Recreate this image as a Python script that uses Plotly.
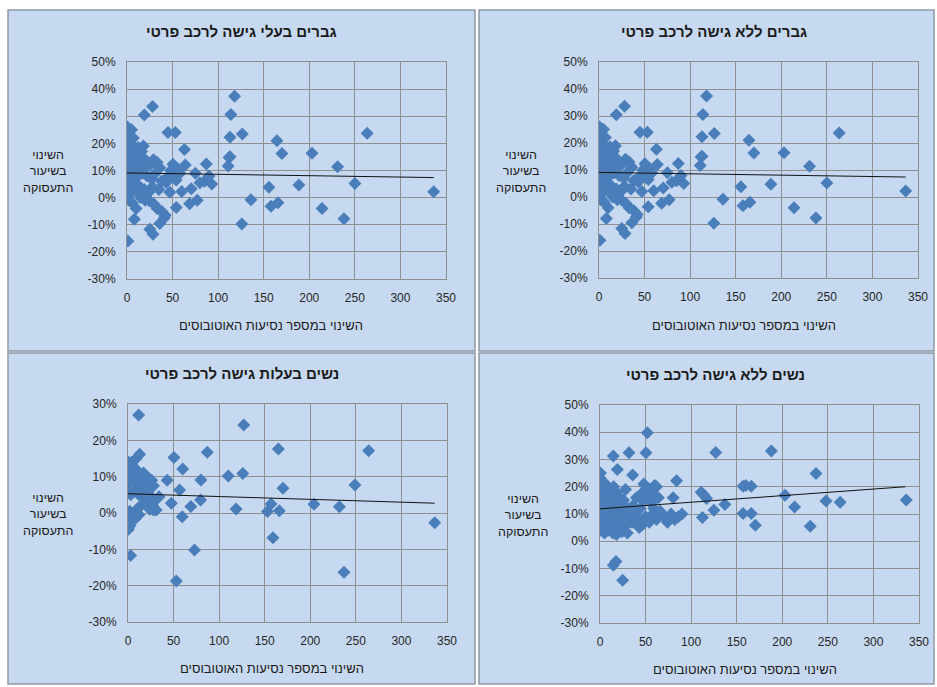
import plotly.graph_objects as go

# ---------------- data ----------------
titles = ["גברים בעלי גישה לרכב פרטי", "גברים ללא גישה לרכב פרטי",
          "נשים בעלות גישה לרכב פרטי", "נשים ללא גישה לרכב פרטי"]
x_title = "השינוי במספר נסיעות האוטובוסים"
y_title = "השינוי<br>בשיעור<br>התעסוקה"

x_ticks = [0, 50, 100, 150, 200, 250, 300, 350]
x_tick_labels = ["0", "50", "100", "150", "200", "250", "300", "350"]
y_ticks_men = [-30, -20, -10, 0, 10, 20, 30, 40, 50]
y_tick_labels_men = ["-30%", "-20%", "-10%", "0%", "10%", "20%", "30%", "40%", "50%"]
y_ticks_wcar = [-30, -20, -10, 0, 10, 20, 30]
y_tick_labels_wcar = ["-30%", "-20%", "-10%", "0%", "10%", "20%", "30%"]
y_ticks_wnocar = y_ticks_men
y_tick_labels_wnocar = y_tick_labels_men

# men (both top panels show the same scatter in the source)
men_x = [118, 28, 19, 114, 263.5, 45, 53, 113, 126.5, 164.5, 170, 203, 63, 87, 112, 111,
         231, 250, 336.5, 188.6, 155.7, 136, 165.6, 158, 214, 238, 126, 54, 68.7, 80, 85,
         70.5, 60, 54, 56, 50.4, 43, 22, 113,
         0.5, 1, 1, 1.5, 2, 0.5, 3, 2, 1, 4, 6, 8, 12, 16, 18, 10, 14, 20, 25, 29, 33, 36,
         3, 6, 9, 12, 17, 22, 27, 31, 38, 44, 48, 2, 5, 9, 14, 19, 24, 28, 35, 1, 4, 10, 15,
         20, 25, 30, 33, 38, 42, 6, 10, 8, 25, 28.5, 41, 36, 1, 2, 0.5, 0.5, 0.5, 3, 7, 5,
         12, 47, 52, 58, 64, 75, 90, 93, 77]
men_y = [37.4, 33.6, 30.5, 30.6, 23.7, 24, 24, 22.3, 23.5, 21, 16.3, 16.4, 17.7, 12.4, 14.8, 11.7,
         11.4, 5.2, 2.2, 4.7, 3.8, -0.8, -1.9, -3.2, -4, -7.8, -9.7, -3.6, -2.3, 5.5, 6,
         3.3, 2.3, 6.5, 10.5, 12.3, 5.6, 12, 15.1,
         26, 24, 22, 20, 18.5, 17, 15.5, 13, 11, 12, 14, 16, 18.5, 17, 19, 13, 11, 14, 12, 14, 13, 11,
         9, 8, 10, 8, 9, 8, 7, 9, 6, 7.5, 10, 6, 4.5, 5, 4, 3, 2, 4, 3, 2, 1.5, 2.5, 0,
         -1, -1.2, -2.5, -4, -5, -6.5, -2, -4, -8, -11.7, -13.5, -7.4, -9.5, -16, -1, 4, 8, 12, 20, 22, 25,
         15, 2, 8, 9, 12, 9, 8, 5, -1]
men_trend_x = [0, 336.5]
men_trend_y = [9.1, 7.4]

wcar_x = [11.7, 127, 165, 264, 87, 12.8, 50.4, 60, 43, 80, 110, 126, 170, 249, 56.6, 47.5, 69,
          79.6, 59.5, 118.6, 157, 153, 166, 204, 232, 336.5, 159, 73, 2.9, 237, 53, 31,
          0.5, 1, 2, 1, 0.5, 3, 5, 7, 9, 11, 13, 15, 17, 19, 21, 23, 26, 28, 6, 10, 14, 18, 22,
          8, 12, 16, 20, 25, 30, 34, 27, 24, 14, 10, 6, 2, 1, 4, 2, 0.5, 8, 12, 3, 1, 9, 4, 28]
wcar_y = [27, 24.2, 17.6, 17.1, 16.7, 16.2, 15.3, 12.1, 9, 9.1, 10.2, 10.9, 6.8, 7.7, 6.3, 2.7, 1.8,
          3.6, -1, 1.1, 2.5, 0.4, 0.6, 2.4, 1.7, -2.7, -6.8, -10.2, -11.7, -16.3, -18.7, 0.8,
          14, 12, 10.5, 9, 8, 11, 13, 12, 10.5, 11.5, 10, 9, 11, 9.5, 10, 8.5, 9, 7.5, 8.5, 8, 7, 6.5, 5.5,
          6, 5, 4.5, 3.5, 4, 3.5, 4.5, 2, 1, 2, 1, 0, 0.5, -1, -2, -3.5, -4.5, -1.5, -0.5, 5, 6, 15, 14, 0.8]
wcar_trend_x = [0, 336.5]
wcar_trend_y = [5.3, 2.7]

wnocar_x = [52, 50.4, 31.8, 14.6, 127, 188, 237, 19, 35.8, 0.5, 0.5, 84, 80.3, 111, 117, 114, 137,
            157, 166, 160, 203, 213.5, 248, 263.5, 336, 112.4, 125, 157, 166, 170.5, 230.7,
            17.5, 14.6, 24.8, 62, 55, 47, 57,
            1, 2, 1, 3, 1, 2, 1, 3, 1, 5, 6, 9, 12, 15, 18, 22, 26, 28, 8, 11, 14, 17, 20, 23, 27, 30,
            6, 10, 13, 16, 19, 22, 25, 29, 32, 35, 9, 14, 18, 24, 30, 38, 41, 44, 47, 50, 53, 56, 59,
            46, 50, 54, 58, 62, 66, 70, 74, 78, 82, 86, 90, 64, 60, 48, 43, 36, 40]
wnocar_y = [39.8, 32.5, 32.5, 31.3, 32.6, 33.1, 24.9, 26.3, 24.3, 25, 23, 22.2, 16, 18, 15.7, 17, 13.5,
            20.2, 20.2, 20.5, 16.9, 12.6, 14.8, 14.3, 15.1, 8.7, 11.4, 10.2, 10.2, 5.9, 5.5,
            -7.4, -8.8, -14.3, 20, 19, 18, 17,
            20, 18, 16, 14, 12, 10, 8, 6, 4, 3, 21, 19, 17, 20, 18, 16, 15, 19, 14, 12, 14, 11, 13, 12, 10, 12,
            9, 8, 6, 9, 7, 5, 8, 6, 9, 7, 4, 3, 2.5, 3.5, 3, 10, 8, 12, 15, 18, 16, 14, 12,
            6, 9, 7, 10, 8, 11, 9, 7, 10, 8, 9, 10, 16, 20.5, 21, 5, 13, 16]
wnocar_trend_x = [0, 335]
wnocar_trend_y = [11.9, 20.0]

# ---------------- layout helpers ----------------
W, H = 937, 687
def fx(px): return px / W
def fy(py): return 1 - py / H

panels = [
    dict(box=(8, 475, 10, 351), plot=(127, 446, 62, 279), x=men_x, y=men_y,
         tx=men_trend_x, ty=men_trend_y, yt=y_ticks_men, yl=y_tick_labels_men, yr=[-30, 50],
         title_xy=(241, 31), xt_xy=(271, 325), yt_xy=(48, 171)),
    dict(box=(479, 934, 10, 351), plot=(599, 918, 62, 278), x=men_x, y=men_y,
         tx=men_trend_x, ty=men_trend_y, yt=y_ticks_men, yl=y_tick_labels_men, yr=[-30, 50],
         title_xy=(714, 31), xt_xy=(744, 325), yt_xy=(521, 171)),
    dict(box=(8, 475, 353, 684), plot=(128, 447, 404, 622), x=wcar_x, y=wcar_y,
         tx=wcar_trend_x, ty=wcar_trend_y, yt=y_ticks_wcar, yl=y_tick_labels_wcar, yr=[-30, 30],
         title_xy=(242, 373), xt_xy=(272, 668), yt_xy=(48, 514)),
    dict(box=(479, 934, 353, 684), plot=(600, 919, 405, 623), x=wnocar_x, y=wnocar_y,
         tx=wnocar_trend_x, ty=wnocar_trend_y, yt=y_ticks_wnocar, yl=y_tick_labels_wnocar, yr=[-30, 50],
         title_xy=(715, 374), xt_xy=(745, 669), yt_xy=(523, 515)),
]

HEB = "Liberation Sans, DejaVu Sans, Arial"
TICKF = "Liberation Sans, Arial"
BLUE = "#4a7ebb"
GRID = "#8f8f8f"

fig = go.Figure()
shapes = []
annotations = []
layout_axes = {}

for i, p in enumerate(panels, start=1):
    xa = "x" if i == 1 else f"x{i}"
    ya = "y" if i == 1 else f"y{i}"
    fig.add_trace(go.Scatter(
        x=p["x"], y=p["y"], mode="markers", xaxis=xa, yaxis=ya,
        marker=dict(symbol="diamond", size=10, color=BLUE, line=dict(width=0)),
        showlegend=False, hoverinfo="skip"))
    fig.add_trace(go.Scatter(
        x=p["tx"], y=p["ty"], mode="lines", xaxis=xa, yaxis=ya,
        line=dict(color="#111111", width=1), showlegend=False, hoverinfo="skip"))

    bx0, bx1, by0, by1 = p["box"]
    shapes.append(dict(type="rect", xref="paper", yref="paper", layer="below",
                       x0=fx(bx0), x1=fx(bx1), y0=fy(by1), y1=fy(by0),
                       fillcolor="#c6d9f0", line=dict(color="#8d99a6", width=1.5)))
    px0, px1, py0, py1 = p["plot"]
    xkey = "xaxis" if i == 1 else f"xaxis{i}"
    ykey = "yaxis" if i == 1 else f"yaxis{i}"
    layout_axes[xkey] = dict(
        domain=[fx(px0), fx(px1)], anchor=ya, range=[0, 350],
        tickvals=x_ticks, ticktext=x_tick_labels, showgrid=True, gridcolor=GRID, gridwidth=1,
        showline=True, linecolor=GRID, linewidth=1, mirror=True, zeroline=False,
        ticks="", ticklabelstandoff=8, automargin=False,
        tickfont=dict(family=TICKF, size=12, color="#262626"), fixedrange=True)
    layout_axes[ykey] = dict(
        domain=[fy(py1), fy(py0)], anchor=xa, range=p["yr"],
        tickvals=p["yt"], ticktext=p["yl"], showgrid=True, gridcolor=GRID, gridwidth=1,
        showline=True, linecolor=GRID, linewidth=1, mirror=True, zeroline=False,
        ticks="", ticklabelstandoff=8, automargin=False,
        tickfont=dict(family=TICKF, size=12, color="#262626"), fixedrange=True)

    tx_, ty_ = p["title_xy"]
    annotations.append(dict(text="<b>" + titles[i - 1] + "</b>", xref="paper", yref="paper",
                            x=fx(tx_), y=fy(ty_), showarrow=False, xanchor="center", yanchor="middle",
                            font=dict(family=HEB, size=15, color="#1a1a1a")))
    ax_, ay_ = p["xt_xy"]
    annotations.append(dict(text=x_title, xref="paper", yref="paper",
                            x=fx(ax_), y=fy(ay_), showarrow=False, xanchor="center", yanchor="middle",
                            font=dict(family=HEB, size=13, color="#1a1a1a")))
    yx_, yy_ = p["yt_xy"]
    annotations.append(dict(text=y_title, xref="paper", yref="paper",
                            x=fx(yx_), y=fy(yy_), showarrow=False, xanchor="center", yanchor="middle",
                            align="center",
                            font=dict(family=HEB, size=12.5, color="#1a1a1a")))

fig.update_layout(
    width=W, height=H, margin=dict(l=0, r=0, t=0, b=0, autoexpand=False),
    paper_bgcolor="white", plot_bgcolor="white",
    shapes=shapes, annotations=annotations, **layout_axes)

fig.write_html("out.html", config={"displayModeBar": False, "staticPlot": True},
               post_script="document.body.style.margin='0';document.body.style.padding='0';"
                           "document.body.style.overflow='hidden';")
